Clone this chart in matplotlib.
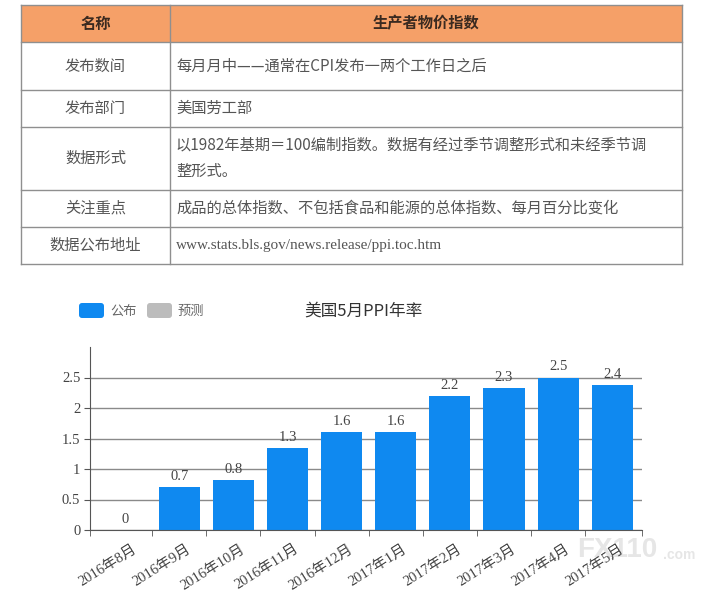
import numpy as np
import matplotlib.pyplot as plt
from matplotlib.patches import Rectangle, FancyBboxPatch
from matplotlib.transforms import ScaledTranslation

# table content
table_head = ['名称', '生产者物价指数']
row_names = ['发布数间', '发布部门', '数据形式', '关注重点', '数据公布地址']
row_texts = ['每月月中——通常在CPI发布一两个工作日之后',
             '美国劳工部',
             '以1982年基期＝100编制指数。数据有经过季节调整形式和未经季节调\n整形式。',
             '成品的总体指数、不包括食品和能源的总体指数、每月百分比变化',
             'www.stats.bls.gov/news.release/ppi.toc.htm']

# chart data (bar heights, labels are rounded)
months = ['2016年8月', '2016年9月', '2016年10月', '2016年11月', '2016年12月',
          '2017年1月', '2017年2月', '2017年3月', '2017年4月', '2017年5月']
ppi = [0, 0.7, 0.82, 1.34, 1.6, 1.6, 2.19, 2.32, 2.5, 2.37]
legend_names = ['公布', '预测']
chart_title = '美国5月PPI年率'

cjk = ['Noto Sans CJK SC', 'DejaVu Sans']
serif = ['Liberation Serif', 'Noto Sans CJK SC']
blue = '#0F89F0'
txt = '#444444'

W, H = 727, 597
fig = plt.figure(figsize=(W / 100, H / 100), dpi=100)

# background axes in pixel coords for the table, legend and title
bg = fig.add_axes([0, 0, 1, 1])
bg.set_xlim(0, W)
bg.set_ylim(H, 0)
bg.axis('off')

x0, xmid, x1 = 21, 170, 682
ys = [5, 42, 90, 127, 190, 227, 264]
bg.add_patch(Rectangle((x0, ys[0]), x1 - x0, ys[1] - ys[0], fc='#F5A068', ec='none'))
for y in ys:
    bg.plot([x0, x1], [y, y], color='#8f8f8f', lw=1)
for x in (x0, xmid, x1):
    bg.plot([x, x], [ys[0], ys[-1]], color='#8f8f8f', lw=1)

bg.text((x0 + xmid) / 2, (ys[0] + ys[1]) / 2, table_head[0], ha='center', va='center',
        fontsize=11, fontweight='bold', family=cjk, color='#3a2a20')
bg.text((xmid + x1) / 2, (ys[0] + ys[1]) / 2, table_head[1], ha='center', va='center',
        fontsize=11, fontweight='bold', family=cjk, color='#3a2a20')
for i, (name, body) in enumerate(zip(row_names, row_texts)):
    yc = (ys[i + 1] + ys[i + 2]) / 2
    bg.text((x0 + xmid) / 2, yc, name, ha='center', va='center',
            fontsize=11, family=cjk, color='#555555')
    fam = serif if body.startswith('www') else cjk
    bg.text(176, yc, body, ha='left', va='center', fontsize=11, family=fam,
            color='#555555', linespacing=1.7)

# legend and title of the chart
bg.add_patch(FancyBboxPatch((79, 303), 25, 15, boxstyle='round,pad=0,rounding_size=3',
                            fc=blue, ec='none'))
bg.text(110, 311, legend_names[0], va='center', fontsize=9.5, family=cjk, color='#666666')
bg.add_patch(FancyBboxPatch((147, 303), 25, 15, boxstyle='round,pad=0,rounding_size=3',
                            fc='#bcbcbc', ec='none'))
bg.text(178, 311, legend_names[1], va='center', fontsize=9.5, family=cjk, color='#666666')
bg.text(363, 311, chart_title, ha='center', va='center', fontsize=12, family=cjk, color='#333333')

# watermark
bg.text(577, 550, 'FX110', fontsize=20, fontweight='bold', family='Liberation Sans',
        color='#e6e6e6', va='center')
bg.text(663, 555, '.com', fontsize=10, fontweight='bold', family='Liberation Sans',
        color='#e6e6e6', va='center')

# bar chart
ax = fig.add_axes([90 / W, (H - 530) / H, (642 - 90) / W, (530 - 347) / H])
ax.patch.set_alpha(0)
x = np.arange(len(months))
bars = ax.bar(x, ppi, width=0.76, color=blue, zorder=2)
ax.bar_label(bars, labels=[f'{round(v, 1):g}' for v in ppi], padding=3,
             fontsize=10.5, family=serif, color=txt)
ax.set_xlim(-0.65, 9.55)
ax.set_ylim(0, 3)
ax.set_yticks([0, 0.5, 1, 1.5, 2, 2.5])
ax.set_yticklabels(['0', '0.5', '1', '1.5', '2', '2.5'], family=serif, fontsize=10.5, color=txt)
ax.yaxis.grid(True, color='#8a8a8a', lw=1, zorder=0)
ax.set_axisbelow(True)
for s in ('top', 'right'):
    ax.spines[s].set_visible(False)
for s in ('left', 'bottom'):
    ax.spines[s].set_color('#555555')
ax.tick_params(axis='y', length=4, color='#555555', pad=3)

ax.set_xticks(x)
ax.set_xticklabels(months, rotation=32, ha='right', rotation_mode='anchor',
                   family=serif, fontsize=10.5, color=txt)
ax.tick_params(axis='x', which='major', length=0, pad=9)
lo, hi = ax.get_xlim()
ax.set_xticks([lo] + list(np.arange(0.5, len(months) - 1)) + [hi], minor=True)
ax.tick_params(axis='x', which='minor', length=4, color='#555555')
shift = ScaledTranslation(5 / 72, 0, fig.dpi_scale_trans)
for lab in ax.get_xticklabels():
    lab.set_transform(lab.get_transform() + shift)

fig.savefig('out.png', dpi=100)
